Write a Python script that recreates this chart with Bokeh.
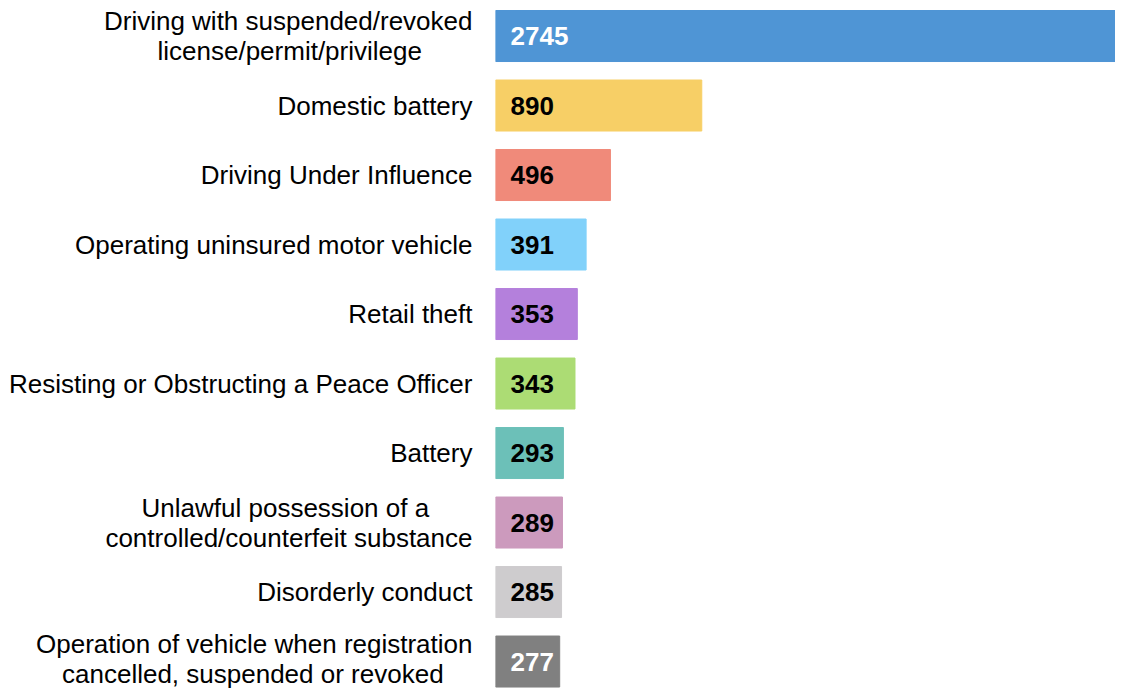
from bokeh.plotting import figure
from bokeh.models import Range1d, FixedTicker, ColumnDataSource
from bokeh.core.properties import value
from bokeh.embed import file_html
from bokeh.resources import INLINE

NB = "\u00a0"
categories = [
    "Driving with suspended/revoked\nlicense/permit/privilege" + NB * 7,
    "Domestic battery",
    "Driving Under Influence",
    "Operating uninsured motor vehicle",
    "Retail theft",
    "Resisting or Obstructing a Peace Officer",
    "Battery",
    "Unlawful possession of a" + NB * 6 + "\ncontrolled/counterfeit substance",
    "Disorderly conduct",
    "Operation of vehicle when registration\ncancelled, suspended or revoked" + NB * 4,
]
counts = [2745, 890, 496, 391, 353, 343, 293, 289, 285, 277]
colors = ["#4F95D5", "#F7CF66", "#F08A7A", "#81D1FA", "#B480DC",
          "#ACDC74", "#6CC0B8", "#CC9ABD", "#CECCCE", "#808080"]
label_colors = ["white", "black", "black", "black", "black",
                "black", "black", "black", "black", "white"]

idx = list(range(len(categories)))
src = ColumnDataSource(dict(y=idx, v=counts, c=colors, lc=label_colors,
                            t=[str(v) for v in counts]))

p = figure(width=1115, height=688, output_backend="svg", toolbar_location=None,
           x_range=Range1d(0, 2675), y_range=Range1d(9.388, -0.511),
           x_axis_location=None, min_border_left=495, min_border_right=0,
           min_border_top=0, min_border_bottom=0)
p.outline_line_color = None
p.grid.visible = False

p.hbar(y="y", left=0, right="v", height=0.734, color="c", source=src)
p.text(x=0, y="y", text="t", x_offset=15, text_color="lc", source=src,
       text_font=value("Liberation Sans"), text_font_style="bold",
       text_font_size="26px", text_baseline="middle", text_align="left")

ax = p.yaxis[0]
ax.ticker = FixedTicker(ticks=idx)
ax.major_label_overrides = {i: c for i, c in zip(idx, categories)}
ax.axis_line_color = None
ax.major_tick_line_color = None
ax.minor_tick_line_color = None
ax.major_tick_out = 0
ax.major_tick_in = 0
ax.minor_tick_out = 0
ax.major_label_standoff = 23
ax.major_label_text_font = "Liberation Sans"
ax.major_label_text_font_size = "26px"
ax.major_label_text_line_height = 1.0
ax.major_label_text_color = "black"

open("out.html", "w").write(file_html(p, INLINE))
